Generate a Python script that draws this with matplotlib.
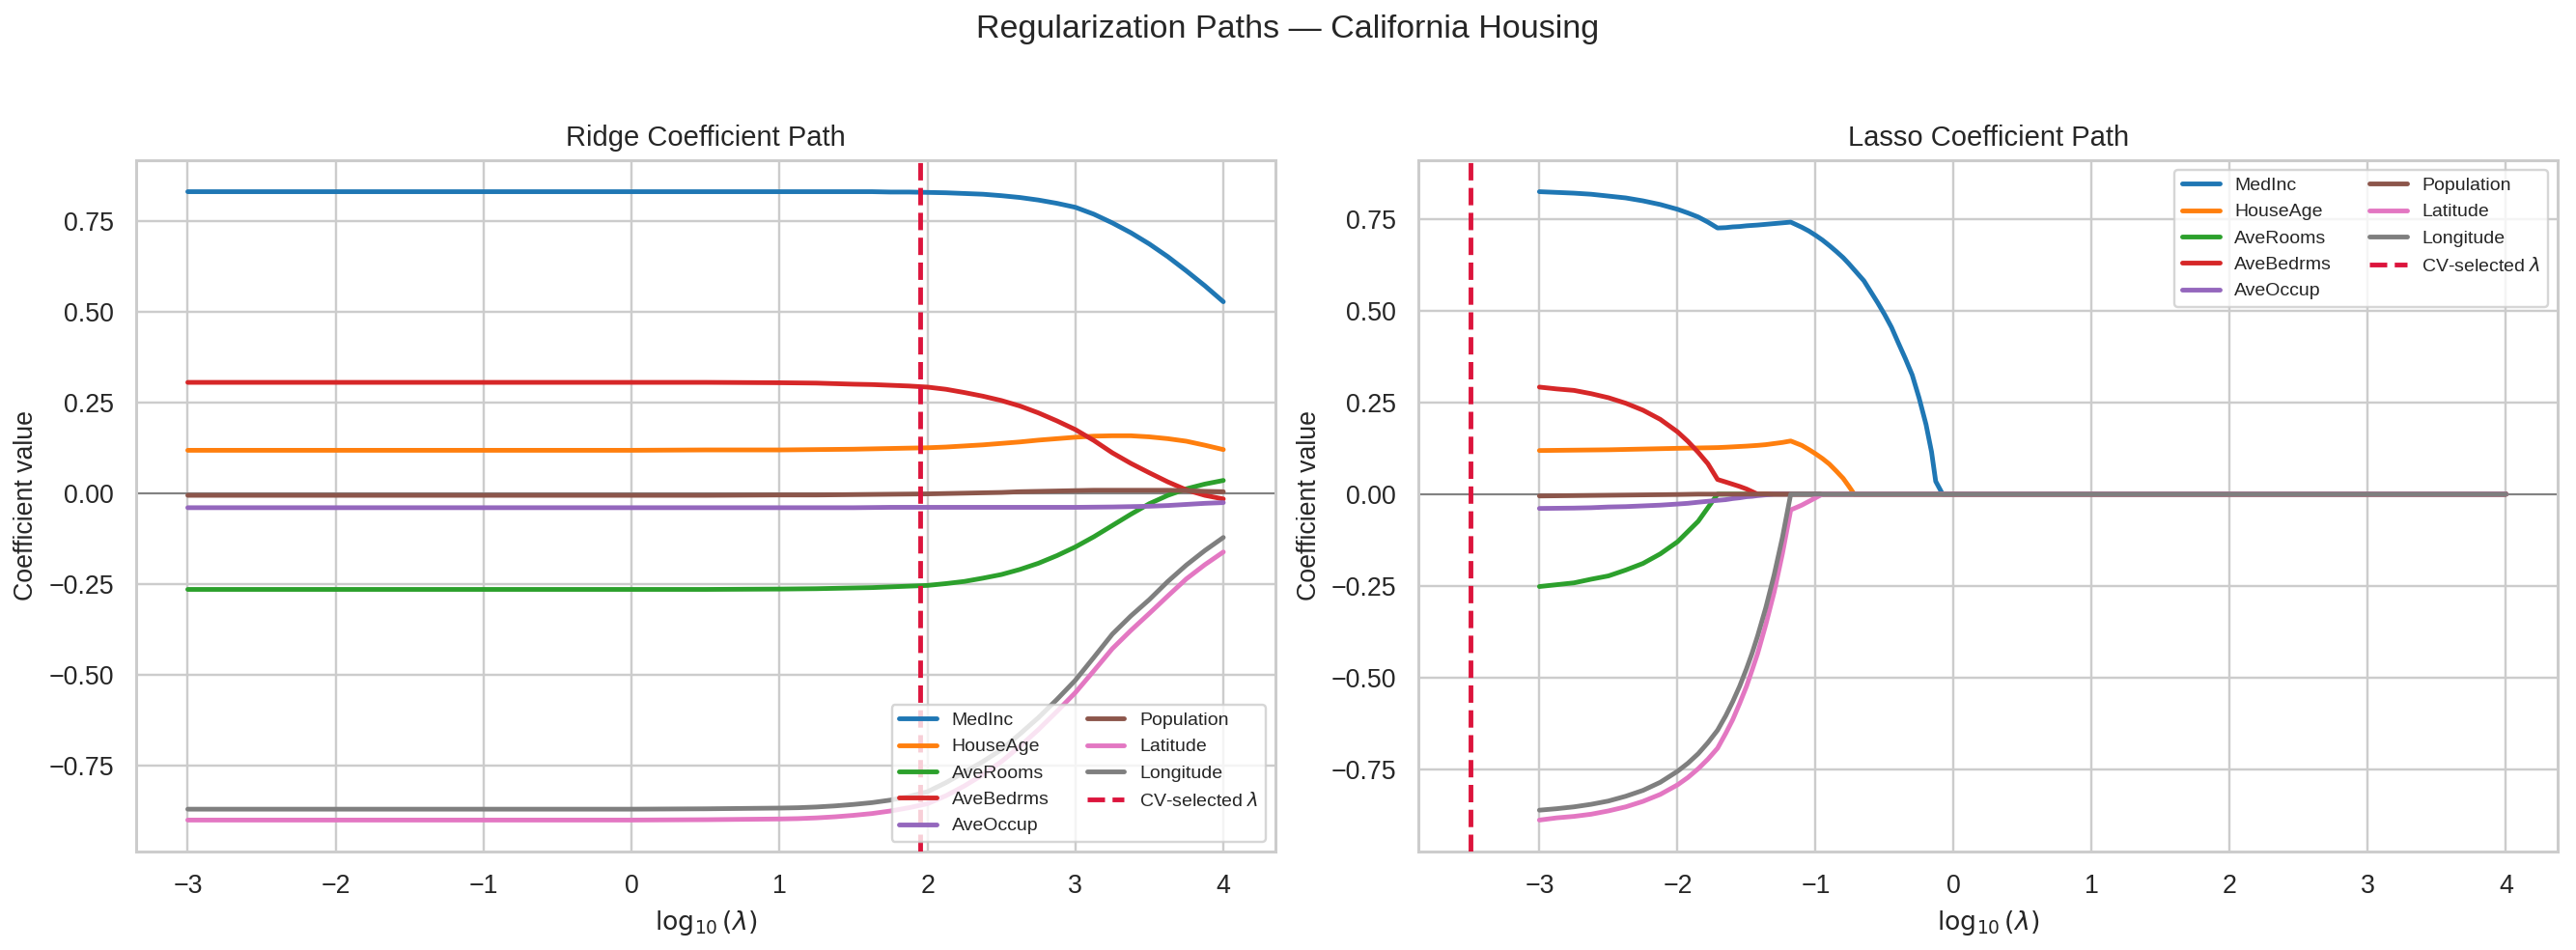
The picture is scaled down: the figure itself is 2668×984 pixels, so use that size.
import numpy as np
import matplotlib
matplotlib.use("Agg")
import matplotlib.pyplot as plt
import seaborn as sns

# ---------------- data ----------------
features = ["MedInc", "HouseAge", "AveRooms", "AveBedrms", "AveOccup",
            "Population", "Latitude", "Longitude"]

ridge_x = [-3, -2, -1, 0, 0.5, 1, 1.125, 1.25, 1.375, 1.5, 1.625, 1.75, 1.875,
           2, 2.125, 2.25, 2.375, 2.5, 2.625, 2.75, 2.875, 3, 3.125, 3.25,
           3.375, 3.5, 3.625, 3.75, 3.875, 4]
ridge_medinc = [0.83, 0.83, 0.83, 0.83, 0.83, 0.83, 0.83, 0.83, 0.83, 0.83,
                0.83, 0.829, 0.829, 0.828, 0.827, 0.825, 0.823, 0.819, 0.814,
                0.807, 0.798, 0.787, 0.768, 0.744, 0.717, 0.686, 0.651, 0.612,
                0.571, 0.527]
ridge_houseage = [0.118, 0.118, 0.118, 0.118, 0.119, 0.119, 0.1195, 0.12,
                  0.1205, 0.121, 0.122, 0.123, 0.124, 0.125, 0.127, 0.13,
                  0.133, 0.137, 0.141, 0.146, 0.150, 0.154, 0.157, 0.158,
                  0.158, 0.155, 0.150, 0.143, 0.132, 0.12]
ridge_averooms = [-0.265, -0.265, -0.265, -0.265, -0.265, -0.264, -0.2635,
                  -0.263, -0.262, -0.261, -0.26, -0.258, -0.256, -0.254,
                  -0.249, -0.243, -0.234, -0.224, -0.21, -0.193, -0.172,
                  -0.148, -0.12, -0.089, -0.058, -0.029, -0.006, 0.012, 0.025,
                  0.035]
ridge_avebedrms = [0.305, 0.305, 0.305, 0.305, 0.305, 0.304, 0.3035, 0.303,
                   0.3015, 0.300, 0.299, 0.297, 0.295, 0.292, 0.286, 0.277,
                   0.267, 0.255, 0.240, 0.221, 0.199, 0.175, 0.145, 0.111,
                   0.082, 0.056, 0.031, 0.009, -0.006, -0.016]
ridge_aveoccup = [-0.04, -0.04, -0.04, -0.04, -0.04, -0.04, -0.04, -0.04,
                  -0.04, -0.04, -0.0395, -0.039, -0.039, -0.039, -0.039,
                  -0.039, -0.039, -0.039, -0.039, -0.039, -0.039, -0.039,
                  -0.0385, -0.038, -0.037, -0.036, -0.034, -0.031, -0.028,
                  -0.026]
ridge_population = [-0.006, -0.006, -0.006, -0.006, -0.006, -0.005, -0.005,
                    -0.005, -0.0045, -0.004, -0.0035, -0.003, -0.0025, -0.002,
                    -0.001, 0.0, 0.001, 0.002, 0.004, 0.005, 0.006, 0.007,
                    0.008, 0.008, 0.008, 0.008, 0.008, 0.007, 0.005, 0.004]
ridge_latitude = [-0.90, -0.90, -0.90, -0.90, -0.899, -0.897, -0.896, -0.894,
                  -0.891, -0.887, -0.882, -0.875, -0.866, -0.855, -0.833,
                  -0.806, -0.775, -0.739, -0.697, -0.651, -0.601, -0.549,
                  -0.489, -0.428, -0.378, -0.331, -0.283, -0.236, -0.197,
                  -0.162]
ridge_longitude = [-0.87, -0.87, -0.87, -0.87, -0.869, -0.867, -0.866, -0.864,
                   -0.861, -0.857, -0.852, -0.845, -0.835, -0.822, -0.797,
                   -0.768, -0.739, -0.706, -0.663, -0.618, -0.568, -0.515,
                   -0.452, -0.388, -0.338, -0.293, -0.243, -0.198, -0.158,
                   -0.122]

lasso_x = [-3, -2.875, -2.75, -2.625, -2.5, -2.375, -2.25, -2.125, -2, -1.925,
           -1.85, -1.78, -1.71, -1.65, -1.6, -1.55, -1.5, -1.46, -1.42, -1.36,
           -1.3, -1.24, -1.18, -1.1, -1.05, -1.0, -0.95, -0.9, -0.85, -0.8,
           -0.76, -0.72, -0.65, -0.6, -0.55, -0.5, -0.45, -0.4, -0.35, -0.3,
           -0.25, -0.2, -0.16, -0.13, -0.08, 0, 1, 2, 3, 4]
lasso_medinc = [0.825, 0.823, 0.821, 0.818, 0.813, 0.808, 0.800, 0.790, 0.777,
                0.767, 0.756, 0.742, 0.726, 0.727, 0.729, 0.730, 0.732, 0.733,
                0.734, 0.736, 0.738, 0.740, 0.742, 0.728, 0.718, 0.706, 0.693,
                0.678, 0.662, 0.645, 0.629, 0.612, 0.582, 0.552, 0.522, 0.49,
                0.455, 0.412, 0.37, 0.325, 0.262, 0.19, 0.115, 0.035, 0.0,
                0.0, 0.0, 0.0, 0.0, 0.0]
lasso_houseage = [0.119, 0.1195, 0.12, 0.1205, 0.121, 0.122, 0.123, 0.124,
                  0.125, 0.1255, 0.126, 0.1265, 0.127, 0.128, 0.129, 0.13,
                  0.131, 0.132, 0.133, 0.135, 0.138, 0.141, 0.145, 0.133,
                  0.122, 0.11, 0.097, 0.082, 0.063, 0.043, 0.022, 0.0,
                  0.0, 0.0, 0.0, 0.0, 0.0, 0.0, 0.0, 0.0, 0.0, 0.0,
                  0.0, 0.0, 0.0, 0.0, 0.0, 0.0, 0.0, 0.0]
lasso_averooms = [-0.252, -0.247, -0.242, -0.232, -0.223, -0.207, -0.189,
                  -0.163, -0.13, -0.102, -0.074, -0.037, 0.0,
                  0.0, 0.0, 0.0, 0.0, 0.0, 0.0, 0.0, 0.0, 0.0,
                  0.0, 0.0, 0.0, 0.0, 0.0, 0.0, 0.0, 0.0, 0.0, 0.0,
                  0.0, 0.0, 0.0, 0.0, 0.0, 0.0, 0.0, 0.0, 0.0, 0.0,
                  0.0, 0.0, 0.0, 0.0, 0.0, 0.0, 0.0, 0.0]
lasso_avebedrms = [0.292, 0.287, 0.283, 0.274, 0.263, 0.248, 0.229, 0.204,
                   0.17, 0.144, 0.114, 0.083, 0.04, 0.033, 0.027, 0.021, 0.014,
                   0.007, 0.0,
                   0.0, 0.0, 0.0, 0.0, 0.0, 0.0, 0.0, 0.0, 0.0, 0.0, 0.0,
                   0.0, 0.0, 0.0, 0.0, 0.0, 0.0, 0.0, 0.0, 0.0, 0.0, 0.0,
                   0.0, 0.0, 0.0, 0.0, 0.0, 0.0, 0.0, 0.0, 0.0]
lasso_aveoccup = [-0.039, -0.0385, -0.038, -0.037, -0.035, -0.034, -0.032,
                  -0.030, -0.027, -0.025, -0.022, -0.0195, -0.017, -0.015,
                  -0.012, -0.01, -0.007, -0.006, -0.004, -0.002, 0.0,
                  0.0, 0.0, 0.0, 0.0, 0.0, 0.0, 0.0, 0.0, 0.0, 0.0,
                  0.0, 0.0, 0.0, 0.0, 0.0, 0.0, 0.0, 0.0, 0.0, 0.0,
                  0.0, 0.0, 0.0, 0.0, 0.0, 0.0, 0.0, 0.0, 0.0]
lasso_population = [-0.005, -0.0045, -0.004, -0.0035, -0.003, -0.0025, -0.002,
                    -0.0015, -0.001, -0.0005, 0.0,
                    0.0, 0.0, 0.0, 0.0, 0.0, 0.0, 0.0, 0.0, 0.0, 0.0,
                    0.0, 0.0, 0.0, 0.0, 0.0, 0.0, 0.0, 0.0, 0.0, 0.0,
                    0.0, 0.0, 0.0, 0.0, 0.0, 0.0, 0.0, 0.0, 0.0, 0.0,
                    0.0, 0.0, 0.0, 0.0, 0.0, 0.0, 0.0, 0.0, 0.0]
lasso_latitude = [-0.889, -0.883, -0.879, -0.873, -0.864, -0.853, -0.838,
                  -0.819, -0.793, -0.773, -0.749, -0.723, -0.693, -0.652,
                  -0.615, -0.571, -0.524, -0.480, -0.435, -0.355, -0.267,
                  -0.162, -0.043, -0.03, -0.02, -0.01, 0.0,
                  0.0, 0.0, 0.0, 0.0, 0.0, 0.0, 0.0, 0.0, 0.0, 0.0,
                  0.0, 0.0, 0.0, 0.0, 0.0, 0.0, 0.0, 0.0, 0.0, 0.0,
                  0.0, 0.0, 0.0]
lasso_longitude = [-0.862, -0.858, -0.853, -0.846, -0.837, -0.824, -0.808,
                   -0.786, -0.756, -0.734, -0.708, -0.678, -0.644, -0.604,
                   -0.566, -0.524, -0.476, -0.434, -0.387, -0.309, -0.22,
                   -0.118, 0.0,
                   0.0, 0.0, 0.0, 0.0, 0.0, 0.0, 0.0, 0.0, 0.0, 0.0,
                   0.0, 0.0, 0.0, 0.0, 0.0, 0.0, 0.0, 0.0, 0.0, 0.0,
                   0.0, 0.0, 0.0, 0.0, 0.0, 0.0, 0.0]

ridge_cv = 1.95
lasso_cv = -3.5

ridge_series = [ridge_medinc, ridge_houseage, ridge_averooms, ridge_avebedrms,
                ridge_aveoccup, ridge_population, ridge_latitude, ridge_longitude]
lasso_series = [lasso_medinc, lasso_houseage, lasso_averooms, lasso_avebedrms,
                lasso_aveoccup, lasso_population, lasso_latitude, lasso_longitude]

# ---------------- style ----------------
sns.set_theme(style="whitegrid", context="notebook")
plt.rcParams["font.family"] = ["Liberation Sans", "DejaVu Sans"]
plt.rcParams["mathtext.fontset"] = "dejavusans"

colors = plt.get_cmap("tab10").colors

DPI = 175
fig, axes = plt.subplots(1, 2, figsize=(2668 / DPI, 984 / DPI), dpi=DPI)
fig.subplots_adjust(left=0.0528, right=0.9929, bottom=0.1037, top=0.8313,
                    wspace=0.126)


def draw(ax, xs, series, cv, title, loc):
    ax.axhline(0, color="gray", lw=0.8, zorder=1.5)
    for name, ys, c in zip(features, series, colors):
        n = min(len(xs), len(ys))
        ax.plot(xs[:n], ys[:n], color=c, lw=2, label=name, zorder=2)
    ax.axvline(cv, color="crimson", ls="--", lw=2,
               label=r"CV-selected $\lambda$", zorder=3)
    ax.set_title(title, fontsize=12)
    ax.set_xlabel(r"$\log_{10}(\lambda)$", fontsize=11)
    ax.set_ylabel("Coefficient value", fontsize=11)
    ax.tick_params(labelsize=11)
    ax.legend(loc=loc, ncol=2, fontsize=8)


draw(axes[0], ridge_x, ridge_series, ridge_cv, "Ridge Coefficient Path",
     "lower right")
draw(axes[1], lasso_x, lasso_series, lasso_cv, "Lasso Coefficient Path",
     "upper right")

fig.suptitle("Regularization Paths \u2014 California Housing", fontsize=14,
             y=0.985)

fig.savefig("out.png", dpi=DPI)
